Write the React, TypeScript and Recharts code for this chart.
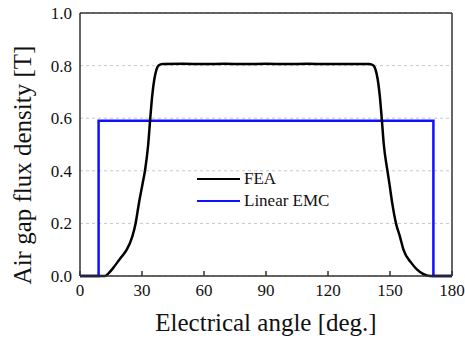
import React from 'react';
import {
  LineChart, Line, XAxis, YAxis, CartesianGrid, Legend, ReferenceLine,
} from 'recharts';

// FEA waveform
const feaAngle = [0, 12, 14, 16, 17.7, 20, 22.6, 25.3, 26.9, 28.5, 30.3, 31.5, 33, 34, 35, 36, 37, 38, 40, 50, 60, 70, 80, 90, 100, 110, 120, 130, 140, 142, 143, 144, 145, 146, 147, 148.7, 149.7, 151.1, 152.9, 154.8, 156.5, 160.5, 163, 166, 169.4, 180];
const feaFlux = [0, 0, 0.012, 0.03, 0.048, 0.072, 0.1, 0.15, 0.2, 0.276, 0.352, 0.403, 0.5, 0.6, 0.69, 0.75, 0.785, 0.8, 0.806, 0.807, 0.806, 0.807, 0.806, 0.807, 0.806, 0.807, 0.806, 0.806, 0.806, 0.8, 0.785, 0.75, 0.69, 0.6, 0.5, 0.403, 0.352, 0.276, 0.2, 0.15, 0.1, 0.048, 0.025, 0.008, 0, 0];

// linear EMC rectangle
const emcAngle = [0, 9, 9, 171, 171, 180];
const emcFlux = [0, 0, 0.59, 0.59, 0, 0];

const xTicks = [0, 30, 60, 90, 120, 150, 180];
const yTicks = [0, 0.2, 0.4, 0.6, 0.8, 1.0];

const feaData = feaAngle.map((a, i) => ({ angle: a, value: feaFlux[i] }));
const emcData = emcAngle.map((a, i) => ({ angle: a, value: emcFlux[i] }));

const FONT = '"Liberation Serif", "Times New Roman", serif';
const AXIS = '#333';

const XTick = (props: any) => {
  const { x, y, payload } = props;
  return (
    <g>
      <line x1={x} x2={x} y1={y} y2={y - 5} stroke={AXIS} strokeWidth={1.5} />
      <text x={x} y={y + 20} textAnchor="middle" fontFamily={FONT} fontSize={17} fill="#111">
        {payload.value}
      </text>
    </g>
  );
};

const YTick = (props: any) => {
  const { x, y, payload } = props;
  return (
    <text x={x - 8} y={y + 6} textAnchor="end" fontFamily={FONT} fontSize={17} fill="#111">
      {Number(payload.value).toFixed(1)}
    </text>
  );
};

const LegendBox = () => (
  <div style={{ fontFamily: FONT, fontSize: 17, color: '#111', lineHeight: '22px' }}>
    {[
      { name: 'FEA', color: '#000' },
      { name: 'Linear EMC', color: '#1010ff' },
    ].map((it) => (
      <div key={it.name} style={{ display: 'flex', alignItems: 'center' }}>
        <span style={{ display: 'inline-block', width: 43, height: 2.5, background: it.color, marginRight: 4 }} />
        <span>{it.name}</span>
      </div>
    ))}
  </div>
);

export default function App() {
  return (
    <div style={{ position: 'absolute', left: 0, top: 0, background: '#fff' }}>
      <LineChart width={465} height={341} margin={{ top: 13, right: 13, left: 0, bottom: 0 }}>
        <CartesianGrid vertical={false} stroke="#c8c8c8" strokeDasharray="3 3" />
        <XAxis
          type="number"
          dataKey="angle"
          domain={[0, 180]}
          ticks={xTicks}
          height={65}
          tickSize={0}
          tickMargin={0}
          tickLine={false}
          stroke={AXIS}
          strokeWidth={1.5}
          tick={<XTick />}
          allowDuplicatedCategory={false}
          label={{
            content: ({ viewBox }: any) => (
              <text
                x={viewBox.x + viewBox.width / 2}
                y={viewBox.y + 55}
                textAnchor="middle"
                fontFamily={FONT}
                fontSize={25}
                fill="#111"
              >
                Electrical angle [deg.]
              </text>
            ),
          }}
        />
        <YAxis
          type="number"
          domain={[0, 1]}
          ticks={yTicks}
          width={80}
          tickSize={0}
          tickMargin={0}
          tickLine={false}
          stroke={AXIS}
          strokeWidth={1.5}
          tick={<YTick />}
          label={{
            content: () => (
              <text
                x={31}
                y={165}
                transform="rotate(-90 31 165)"
                textAnchor="middle"
                fontFamily={FONT}
                fontSize={25}
                fill="#111"
              >
                Air gap flux density [T]
              </text>
            ),
          }}
        />
        <ReferenceLine y={1} stroke={AXIS} strokeWidth={1.5} />
        <ReferenceLine x={180} stroke={AXIS} strokeWidth={1.5} />
        <Line
          data={emcData}
          dataKey="value"
          name="Linear EMC"
          type="linear"
          stroke="#1010ff"
          strokeWidth={2.5}
          dot={false}
          isAnimationActive={false}
        />
        <Line
          data={feaData}
          dataKey="value"
          name="FEA"
          type="monotone"
          stroke="#000"
          strokeWidth={2.5}
          dot={false}
          isAnimationActive={false}
        />
        <Legend
          layout="horizontal"
          verticalAlign="middle"
          align="center"
          content={<LegendBox />}
          wrapperStyle={{ position: 'absolute', left: 197, top: 168, width: 160 }}
        />
      </LineChart>
    </div>
  );
}
